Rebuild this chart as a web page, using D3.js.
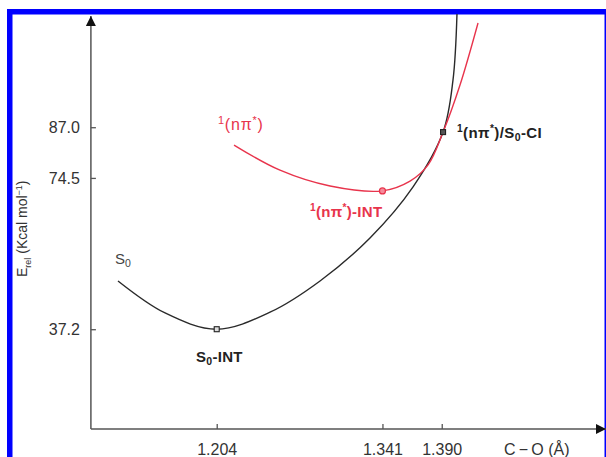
<!DOCTYPE html>
<html><head><meta charset="utf-8">
<script src="https://cdn.jsdelivr.net/npm/d3@7"></script>
<style>
html,body{margin:0;padding:0;background:#fff;}
svg{display:block;font-family:"Liberation Sans",Arial,sans-serif;}
</style></head>
<body>
<svg id="c" width="606" height="457"></svg>
<script>
// ---- data (C–O distance in Å, relative energy in kcal/mol) ----
const s0X = [1.1224, 1.1613, 1.204, 1.2481, 1.2894, 1.3307, 1.3663, 1.3911, 1.3993, 1.4026];
const s0E = [49.1, 41.2, 37.2, 41.4, 49.1, 59.7, 72.3, 85.8, 98.6, 114.9];
const npiX = [1.2183, 1.2563, 1.2977, 1.341, 1.3638, 1.3787, 1.3911, 1.4051, 1.4200];
const npiE = [82.6, 76.4, 72.5, 71.3, 73.7, 77.7, 85.8, 97.4, 112.7];
const xTicks = [1.204, 1.341, 1.390];
const yTicks = [37.2, 74.5, 87.0];
const points = [
  {x: 1.204, e: 37.2, kind: "s0"},
  {x: 1.341, e: 71.3, kind: "npi"},
  {x: 1.3911, e: 85.8, kind: "ci"}
];

const svg = d3.select("#c");
const x = d3.scaleLinear().domain([1.1, 1.52]).range([90.9, 599.0]);
const y = d3.scaleLinear().domain([12.6, 114]).range([429, 17.7]);
const axisCol = "#555";
const red = "#e8344c";

// frame
svg.append("rect").attr("x", 9.75).attr("y", 11.75).attr("width", 597.5).attr("height", 460)
  .attr("fill", "none").attr("stroke", "#0000ff").attr("stroke-width", 5.5);

// arrow marker
const defs = svg.append("defs");
defs.append("marker").attr("id", "arr").attr("viewBox", "0 0 10 10").attr("refX", 10).attr("refY", 5)
  .attr("markerWidth", 16).attr("markerHeight", 10).attr("markerUnits", "userSpaceOnUse").attr("orient", "auto")
  .append("path").attr("d", "M0,0 L10,5 L0,10 Z").attr("fill", "#111");

// axis lines
svg.append("line").attr("x1", x(1.1)).attr("y1", y(12.6)).attr("x2", 606).attr("y2", y(12.6))
  .attr("stroke", axisCol).attr("stroke-width", 1.5).attr("marker-end", "url(#arr)");
svg.append("line").attr("x1", x(1.1)).attr("y1", y(12.6)).attr("x2", x(1.1)).attr("y2", 16)
  .attr("stroke", axisCol).attr("stroke-width", 1.5).attr("marker-end", "url(#arr)");

// x axis ticks
const gx = svg.append("g").attr("transform", `translate(0,${y(12.6)})`)
  .call(d3.axisBottom(x).tickValues(xTicks).tickFormat(d3.format(".3f")).tickSizeInner(-5).tickSizeOuter(0).tickPadding(15));
gx.select(".domain").remove();
gx.selectAll("line").attr("stroke", axisCol).attr("stroke-width", 1.3);
gx.selectAll("text").attr("font-size", 16).attr("fill", "#333");

// y axis ticks
const gy = svg.append("g").attr("transform", `translate(${x(1.1)},0)`)
  .call(d3.axisLeft(y).tickValues(yTicks).tickFormat(d3.format(".1f")).tickSizeInner(-5).tickSizeOuter(0).tickPadding(11));
gy.select(".domain").remove();
gy.selectAll("line").attr("stroke", axisCol).attr("stroke-width", 1.3);
gy.selectAll("text").attr("font-size", 16).attr("fill", "#333");

// axis titles
svg.append("text").attr("x", 504).attr("y", 455).attr("font-size", 16).attr("fill", "#333").text("C\u2009\u2212\u2009O (\u00C5)");
const yt = svg.append("text").attr("transform", "translate(27,277) rotate(-90)").attr("font-size", 14).attr("fill", "#333");
yt.append("tspan").text("E");
yt.append("tspan").attr("font-size", 9).attr("dy", 4).text("rel");
yt.append("tspan").attr("dy", -4).text(" (Kcal mol");
yt.append("tspan").attr("font-size", 9).attr("dy", -5).text("\u22121");
yt.append("tspan").attr("dy", 5).text(")");

// curves
const line = d3.line().x(d => x(d[0])).y(d => y(d[1])).curve(d3.curveCatmullRom.alpha(0.5));
svg.append("path").datum(s0X.map((v, i) => [v, s0E[i]])).attr("d", line)
  .attr("fill", "none").attr("stroke", "#2a2a2a").attr("stroke-width", 1.4);
svg.append("path").datum(npiX.map((v, i) => [v, npiE[i]])).attr("d", line)
  .attr("fill", "none").attr("stroke", red).attr("stroke-width", 1.4);

// stationary points
points.forEach(p => {
  if (p.kind === "npi") {
    svg.append("circle").attr("cx", x(p.x)).attr("cy", y(p.e)).attr("r", 3)
      .attr("fill", "#f58a9a").attr("stroke", red).attr("stroke-width", 1.2);
  } else {
    svg.append("rect").attr("x", x(p.x) - 2.5).attr("y", y(p.e) - 2.5).attr("width", 5).attr("height", 5)
      .attr("fill", p.kind === "ci" ? "#555" : "#ddd").attr("stroke", "#222").attr("stroke-width", 1.1);
  }
});

// labels
function label(px, py, parts, opts) {
  const s = opts.size || 13;
  const t = svg.append("text").attr("x", px).attr("y", py).attr("font-size", s)
    .attr("fill", opts.color).attr("font-weight", opts.bold ? "bold" : "normal")
    .attr("letter-spacing", opts.ls || 0);
  parts.forEach(p => {
    const ts = t.append("tspan").text(p.t);
    if (p.sup) ts.attr("font-size", s * 0.68).attr("dy", -6);
    if (p.sub) ts.attr("font-size", s * 0.7).attr("dy", 3);
    if (p.back) ts.attr("dy", p.back);
  });
  return t;
}
label(218, 130, [{t: "1", sup: true}, {t: "(n\u03C0", back: 6}, {t: "*", sup: true}, {t: ")", back: 6}], {color: red, size: 16, ls: 0.8});
label(457, 138, [{t: "1", sup: true}, {t: "(n\u03C0", back: 6}, {t: "*", sup: true}, {t: ")/S", back: 6}, {t: "0", sub: true}, {t: "-CI", back: -3}], {color: "#222", size: 15, bold: true, ls: 0.4});
label(310, 217, [{t: "1", sup: true}, {t: "(n\u03C0", back: 6}, {t: "*", sup: true}, {t: ")-INT", back: 6}], {color: red, size: 15, bold: true, ls: 0.3});
label(196, 362, [{t: "S"}, {t: "0", sub: true}, {t: "-INT", back: -3}], {color: "#222", size: 15, bold: true, ls: 0.3});
label(115, 264, [{t: "S"}, {t: "0", sub: true}], {color: "#444", size: 15});
</script>
</body></html>
